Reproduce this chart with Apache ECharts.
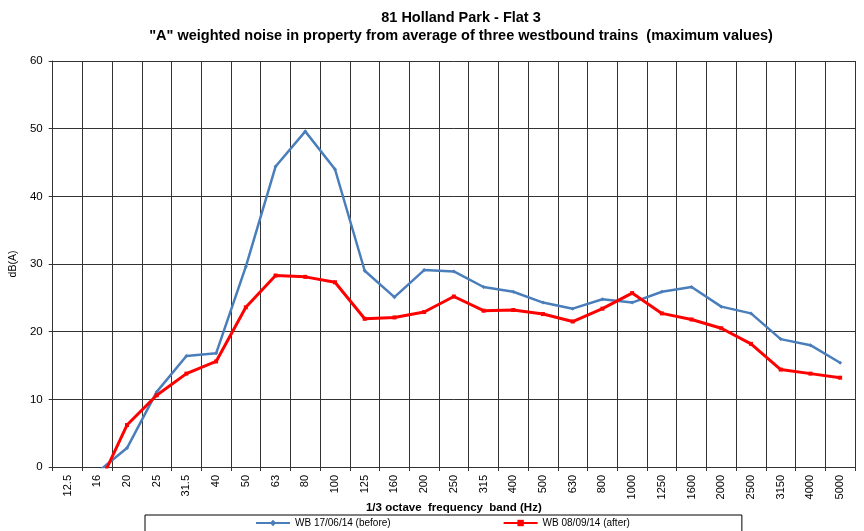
<!DOCTYPE html>
<html>
<head>
<meta charset="utf-8">
<script src="https://cdn.jsdelivr.net/npm/echarts@6/dist/echarts.min.js"></script>
<style>
  html, body { margin: 0; padding: 0; background: #fff; }
  #chart { width: 864px; height: 531px; }
</style>
</head>
<body>
<div id="chart"></div>
<script>
// 1/3 octave bands
var bands = ['12.5', '16', '20', '25', '31.5', '40', '50', '63', '80', '100', '125', '160', '200', '250',
  '315', '400', '500', '630', '800', '1000', '1250', '1600', '2000', '2500', '3150', '4000', '5000'];

// WB 17/06/14 (before)
var before = [null, -0.8, 2.8, 11.1, 16.4, 16.8, 29.6, 44.4, 49.6, 44.0, 29.0, 25.1, 29.1, 28.9,
  26.6, 25.9, 24.3, 23.4, 24.8, 24.3, 25.9, 26.6, 23.7, 22.7, 18.9, 18.0, 15.4];

// WB 08/09/14 (after)
var after = [null, -3.2, 6.2, 10.6, 13.8, 15.6, 23.6, 28.3, 28.1, 27.3, 21.9, 22.1, 22.9, 25.2,
  23.1, 23.2, 22.6, 21.5, 23.4, 25.7, 22.7, 21.8, 20.5, 18.2, 14.4, 13.8, 13.2];

var font = '"Liberation Sans", Arial, sans-serif';
var chart = echarts.init(document.getElementById('chart'));

var option = {
  animation: false,
  backgroundColor: '#fff',
  title: {
    text: '81 Holland Park - Flat 3',
    subtext: '"A" weighted noise in property from average of three westbound trains  (maximum values)',
    left: 456,
    textAlign: 'center',
    top: 5,
    itemGap: 3,
    textStyle: { fontFamily: font, fontSize: 14.5, fontWeight: 'bold', color: '#000' },
    subtextStyle: { fontFamily: font, fontSize: 14.5, fontWeight: 'bold', color: '#000' }
  },
  legend: {
    top: 515,
    left: 145,
    padding: [3, 112, 10, 110],
    itemGap: 112,
    itemWidth: 34,
    itemHeight: 8,
    borderColor: '#000',
    borderWidth: 1,
    textStyle: { fontFamily: font, fontSize: 10, color: '#000' },
    data: ['WB 17/06/14 (before)', 'WB 08/09/14 (after)']
  },
  grid: { left: 52, right: 9, top: 61, bottom: 64 },
  xAxis: {
    type: 'category',
    data: bands,
    boundaryGap: true,
    name: '1/3 octave  frequency  band (Hz)',
    nameLocation: 'middle',
    nameGap: 41,
    nameMoveOverlap: false,
    nameTextStyle: { fontFamily: font, fontSize: 11.5, fontWeight: 'bold', color: '#000', verticalAlign: 'middle', lineHeight: 12 },
    axisLine: { lineStyle: { color: '#333', width: 1 } },
    axisTick: { show: true, length: 4, lineStyle: { color: '#333' } },
    axisLabel: { rotate: 90, fontFamily: font, fontSize: 11, color: '#000', margin: 8, interval: 0 },
    splitLine: { show: true, lineStyle: { color: '#333', width: 1 } }
  },
  yAxis: {
    type: 'value',
    min: 0,
    max: 60,
    interval: 10,
    name: 'dB(A)',
    nameLocation: 'middle',
    nameGap: 32,
    nameRotate: 90,
    nameTextStyle: { fontFamily: font, fontSize: 10.5, color: '#000' },
    axisLine: { show: true, lineStyle: { color: '#333', width: 1 } },
    axisTick: { show: true, length: 4, lineStyle: { color: '#333' } },
    axisLabel: { fontFamily: font, fontSize: 11.5, color: '#000', margin: 10 },
    splitLine: { show: true, lineStyle: { color: '#333', width: 1 } }
  },
  series: [
    {
      name: 'WB 17/06/14 (before)',
      type: 'line',
      data: before,
      clip: true,
      color: '#4A7EBB',
      symbol: 'diamond',
      symbolSize: 4,
      lineStyle: { width: 2.5, color: '#4A7EBB' },
      itemStyle: { color: '#4A7EBB' }
    },
    {
      name: 'WB 08/09/14 (after)',
      type: 'line',
      data: after,
      clip: true,
      color: '#FF0000',
      symbol: 'rect',
      symbolSize: 4,
      lineStyle: { width: 3, color: '#FF0000' },
      itemStyle: { color: '#FF0000' }
    }
  ]
};

chart.setOption(option);
</script>
</body>
</html>
